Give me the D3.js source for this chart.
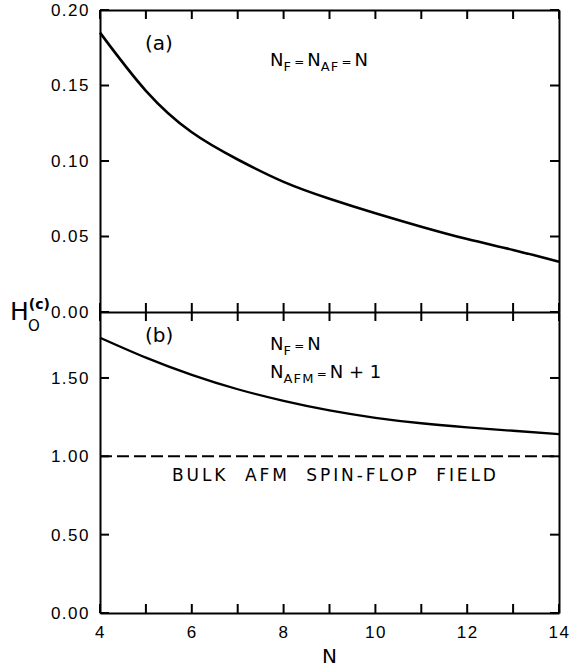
<!DOCTYPE html>
<html>
<head>
<meta charset="utf-8">
<script src="https://cdn.jsdelivr.net/npm/d3@7"></script>
<style>
  body { margin: 0; background: #fff; }
  svg { display: block; font-family: "DejaVu Sans", sans-serif; }
  .axis path { stroke: #000; stroke-width: 2; }
  .axis text { font-size: 17px; fill: #000; letter-spacing: 1.5px; }
</style>
</head>
<body>
<svg></svg>
<script>
// data
const nValues = [4, 5, 6, 7, 8, 9, 10, 11, 12, 13, 14];
const hcA = [0.185, 0.1465, 0.119, 0.101, 0.0862, 0.075, 0.0654, 0.0565, 0.0483, 0.0411, 0.0333];
const hcB = [1.757, 1.630, 1.520, 1.428, 1.354, 1.293, 1.246, 1.211, 1.185, 1.163, 1.142];
const bulkSpinFlop = 1.00;
const xTicks = [4, 5, 6, 7, 8, 9, 10, 11, 12, 13, 14];
const xLabels = [4, 6, 8, 10, 12, 14];
const yTicksA = [0, 0.05, 0.10, 0.15, 0.20];
const yTicksB = [0, 0.50, 1.00, 1.50];

// canvas
const svgSize = { width: 574, height: 669 };
const margin = { top: 10, right: 15, bottom: 56, left: 100 };
const width = svgSize.width - margin.left - margin.right;
const midY = 302; // zero line of panel (a), top of panel (b)
const bottomY = svgSize.height - margin.top - margin.bottom;
const tl = 9; // tick length

const svg = d3.select("svg")
  .attr("width", svgSize.width)
  .attr("height", svgSize.height);

const chart = svg.append("g")
  .attr("transform", `translate(${margin.left},${margin.top})`);

// scales
const x = d3.scaleLinear().domain([4, 14]).range([0, width]);
const yA = d3.scaleLinear().domain([0, 0.20]).range([midY, 0]);
const yB = d3.scaleLinear().domain([0, 1.921]).range([bottomY, midY]);

const fmt = d3.format(".2f");

// axis lines and labels
chart.append("g").attr("class", "axis")
  .call(d3.axisLeft(yA).tickValues(yTicksA).tickFormat(fmt).tickSize(0).tickPadding(10));
chart.append("g").attr("class", "axis")
  .call(d3.axisLeft(yB).tickValues(yTicksB).tickFormat(fmt).tickSize(0).tickPadding(10));
chart.append("g").attr("class", "axis")
  .attr("transform", `translate(${width},0)`)
  .call(d3.axisRight(yA).tickValues([]).tickSize(0));
chart.append("g").attr("class", "axis")
  .attr("transform", `translate(${width},0)`)
  .call(d3.axisRight(yB).tickValues([]).tickSize(0));
chart.append("g").attr("class", "axis")
  .call(d3.axisTop(x).tickValues([]).tickSize(0));
chart.append("g").attr("class", "axis")
  .attr("transform", `translate(0,${midY})`)
  .call(d3.axisTop(x).tickValues([]).tickSize(0));
chart.append("g").attr("class", "axis")
  .attr("transform", `translate(0,${bottomY})`)
  .call(d3.axisBottom(x).tickValues(xLabels).tickSize(0).tickPadding(13));

// tick marks
const marks = chart.append("g").attr("stroke", "#000").attr("stroke-width", 2);
function hTicks(values, scale, x0, dir) {
  values.forEach(d => {
    marks.append("line")
      .attr("x1", x0).attr("x2", x0 + dir * tl)
      .attr("y1", scale(d)).attr("y2", scale(d))
      .attr("stroke", "#000").attr("stroke-width", 2);
  });
}
function vTicks(values, y1, y2) {
  values.forEach(d => {
    marks.append("line")
      .attr("x1", x(d)).attr("x2", x(d))
      .attr("y1", y1).attr("y2", y2)
      .attr("stroke", "#000").attr("stroke-width", 2);
  });
}
hTicks(yTicksA, yA, 0, 1);
hTicks(yTicksB, yB, 0, 1);
hTicks(yTicksA, yA, width, -1);
hTicks(yTicksB, yB, width, -1);
vTicks(xTicks, 0, tl);
vTicks(xTicks, midY - tl, midY + tl);
vTicks(xTicks, bottomY - tl, bottomY);

// curves
const lineA = d3.line().x((d, i) => x(nValues[i])).y(d => yA(d)).curve(d3.curveNatural);
const lineB = d3.line().x((d, i) => x(nValues[i])).y(d => yB(d)).curve(d3.curveNatural);

chart.append("path").datum(hcA)
  .attr("d", lineA).attr("fill", "none").attr("stroke", "#000").attr("stroke-width", 2.6);
chart.append("path").datum(hcB)
  .attr("d", lineB).attr("fill", "none").attr("stroke", "#000").attr("stroke-width", 2.3);

// bulk spin-flop field
chart.append("line")
  .attr("x1", x(4)).attr("x2", x(14))
  .attr("y1", yB(bulkSpinFlop)).attr("y2", yB(bulkSpinFlop))
  .attr("stroke", "#000").attr("stroke-width", 2).attr("stroke-dasharray", "12,5");

chart.append("text")
  .attr("x", 72).attr("y", yB(bulkSpinFlop) + 25)
  .attr("font-size", 17).attr("letter-spacing", 2.9)
  .attr("xml:space", "preserve").style("white-space", "pre")
  .text("BULK  AFM  SPIN-FLOP  FIELD");

// panel labels
chart.append("text").attr("x", 45).attr("y", 40).attr("font-size", 20).text("(a)");
chart.append("text").attr("x", 45).attr("y", midY + 30).attr("font-size", 20).text("(b)");

// annotations with subscripts
function subText(g, xPos, yPos, parts) {
  const t = g.append("text").attr("x", xPos).attr("y", yPos).attr("font-size", 18)
    .attr("xml:space", "preserve").style("white-space", "pre");
  parts.forEach(p => {
    const s = t.append("tspan").text(p.t);
    if (p.sub) s.attr("font-size", 13).attr("dy", 5).attr("letter-spacing", 1.2);
    if (p.back) s.attr("dy", -5);
    if (p.eq) s.attr("font-size", 12).attr("dx", 2);
    if (p.dx) s.attr("dx", p.dx);
  });
  return t;
}
subText(chart, 170, 56, [
  { t: "N" }, { t: "F", sub: true }, { t: "=", back: true, eq: true }, { t: "N", dx: 3 },
  { t: "AF", sub: true }, { t: "=", back: true, eq: true }, { t: "N", dx: 3 }
]);
subText(chart, 170, midY + 38, [
  { t: "N" }, { t: "F", sub: true }, { t: "=", back: true, eq: true }, { t: "N", dx: 3 }
]);
subText(chart, 170, midY + 66, [
  { t: "N" }, { t: "AFM", sub: true }, { t: "=", back: true, eq: true }, { t: "N + 1", dx: 3 }
]);

// axis titles
chart.append("text")
  .attr("x", x(9)).attr("y", bottomY + 50)
  .attr("text-anchor", "middle").attr("font-size", 20).text("N");

const yTitle = svg.append("text").attr("x", 10).attr("y", 320).attr("font-size", 25);
yTitle.append("tspan").text("H");
yTitle.append("tspan").attr("font-size", 14).attr("font-weight", "bold").attr("dy", -11).text("(c)");
svg.append("text").attr("x", 28).attr("y", 331).attr("font-size", 15).text("O");
</script>
</body>
</html>
